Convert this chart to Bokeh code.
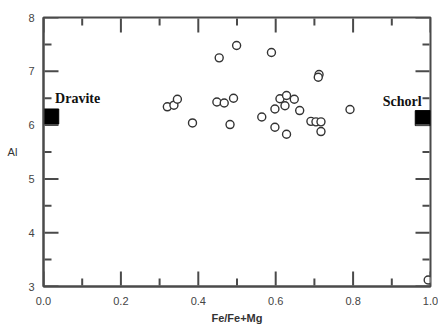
from bokeh.plotting import figure
from bokeh.models import Range1d, Label, FixedTicker, CustomJSTickFormatter
from bokeh.embed import file_html
from bokeh.resources import INLINE

# Sample data
fe_ratio = [0.499, 0.454, 0.320, 0.337, 0.346, 0.448, 0.467, 0.491, 0.385, 0.482,
            0.589, 0.712, 0.710, 0.611, 0.628, 0.648, 0.624, 0.598, 0.662, 0.564,
            0.691, 0.704, 0.717, 0.598, 0.628, 0.717, 0.792, 0.994]
al_value = [7.48, 7.25, 6.34, 6.37, 6.48, 6.43, 6.41, 6.50, 6.04, 6.01,
            7.35, 6.94, 6.89, 6.49, 6.55, 6.48, 6.36, 6.30, 6.27, 6.15,
            6.07, 6.06, 6.06, 5.96, 5.83, 5.88, 6.29, 3.12]

# End members
end_names = ["Dravite", "Schorl"]
end_x = [0.02, 0.98]
end_y = [6.16, 6.13]

x_ticks = [0.0, 0.2, 0.4, 0.6, 0.8, 1.0]
x_minor = [0.1, 0.3, 0.5, 0.7, 0.9]
y_ticks = [3, 4, 5, 6, 7, 8]
y_minor = [3.5, 4.5, 5.5, 6.5, 7.5]

W, H = 438, 326
L, R, T, B = 43, 8, 17, 39
X0, X1, Y0, Y1 = 0.0, 1.0, 3.0, 8.0
AX = "#4a4a4a"

p = figure(width=W, height=H, output_backend="svg", toolbar_location=None,
           x_range=Range1d(X0, X1), y_range=Range1d(Y0, Y1),
           min_border_left=L, min_border_right=R, min_border_top=T, min_border_bottom=B)
p.xgrid.visible = False
p.ygrid.visible = False
p.outline_line_color = AX
p.outline_line_width = 2
p.background_fill_color = "white"

for ax, ticks in ((p.xaxis[0], x_ticks), (p.yaxis[0], y_ticks)):
    ax.ticker = FixedTicker(ticks=ticks)
    ax.axis_line_color = AX
    ax.axis_line_width = 2
    ax.major_tick_line_color = None
    ax.minor_tick_line_color = None
    ax.major_tick_in = 0
    ax.major_tick_out = 0
    ax.minor_tick_in = 0
    ax.minor_tick_out = 0
    ax.major_label_text_font = "Liberation Sans"
    ax.major_label_text_font_size = "11px"
    ax.major_label_text_color = "#444444"
    ax.axis_label_text_font = "Liberation Sans"
    ax.axis_label_text_font_style = "normal"
    ax.axis_label_text_color = "#333333"

p.xaxis[0].formatter = CustomJSTickFormatter(code="return tick.toFixed(1);")
p.xaxis[0].major_label_standoff = 10
p.xaxis[0].axis_label = "Fe/Fe+Mg"
p.xaxis[0].axis_label_text_font_style = "bold"
p.xaxis[0].axis_label_text_font_size = "11px"
p.xaxis[0].axis_label_standoff = 4

p.yaxis[0].major_label_standoff = 9
p.yaxis[0].axis_label = "Al"
p.yaxis[0].axis_label_text_font_size = "11px"
p.yaxis[0].axis_label_standoff = 8
try:
    p.yaxis[0].axis_label_orientation = "horizontal"
except Exception:
    pass

p.scatter(fe_ratio, al_value, marker="circle", size=8, fill_color="white",
          line_color="#333333", line_width=1.4)
p.scatter(end_x, end_y, marker="square", size=15, fill_color="black", line_color="black")

# inward tick marks on all four sides: small screen-sized rects at the tick values
sx = (X1 - X0) / (W - L - R)   # data units per pixel
sy = (Y1 - Y0) / (H - T - B)
maj, mnr, tw = 14, 7, 2
for vals, length in ((x_ticks, maj), (x_minor, mnr)):
    for edge, sign in ((Y0, 1), (Y1, -1)):
        p.rect(x=vals, y=[edge + sign*(length/2 + 1)*sy]*len(vals),
               width=tw, height=length, width_units="screen", height_units="screen",
               fill_color=AX, line_color=None)
for vals, length in ((y_ticks, maj), (y_minor, mnr)):
    for edge, sign in ((X0, 1), (X1, -1)):
        p.rect(x=[edge + sign*(length/2 + 1)*sx]*len(vals), y=vals,
               width=length, height=tw, width_units="screen", height_units="screen",
               fill_color=AX, line_color=None)

p.add_layout(Label(x=0.03, y=6.36, text=end_names[0], text_font="Liberation Serif",
                   text_font_style="bold", text_font_size="14px", text_color="#111111"))
p.add_layout(Label(x=0.977, y=6.29, text=end_names[1], text_font="Liberation Serif",
                   text_font_style="bold", text_font_size="14px", text_color="#111111",
                   text_align="right"))

open("out.html", "w").write(file_html(p, INLINE))
